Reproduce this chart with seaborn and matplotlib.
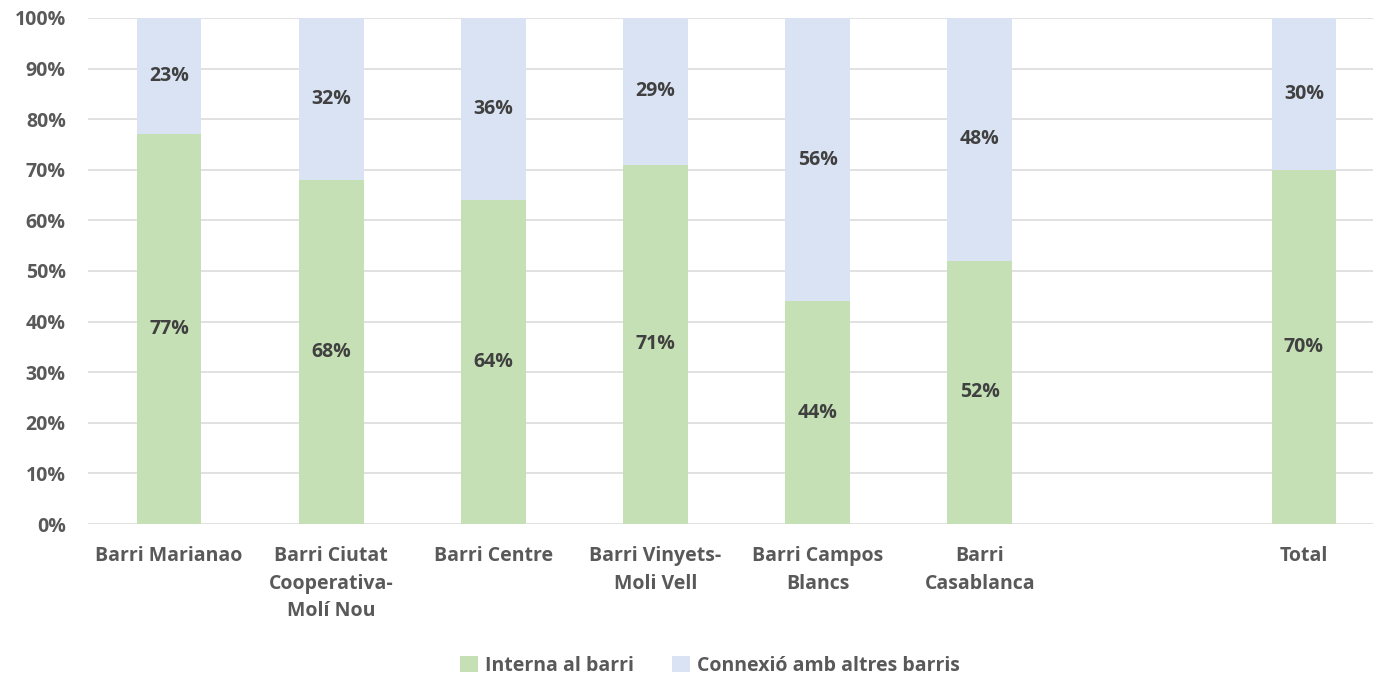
import matplotlib
matplotlib.use('Agg')
import matplotlib.pyplot as plt
from matplotlib.patches import Patch
from matplotlib.ticker import PercentFormatter
import pandas as pd
import seaborn as sns

CATEGORIES = ['Barri Marianao', 'Barri Ciutat\nCooperativa-\nMolí Nou', 'Barri Centre',
              'Barri Vinyets-\nMoli Vell', 'Barri Campos\nBlancs', 'Barri\nCasablanca',
              ' ', 'Total']
PLOTTED = [c for c in CATEGORIES if c.strip()]
INTERNA = [77, 68, 64, 71, 44, 52, 70]
CONNEXIO = [23, 32, 36, 29, 56, 48, 30]
SERIES = ['Interna al barri', 'Connexió amb altres barris']
GREEN = '#C5E0B4'
BLUE = '#DAE3F3'
TICK_COLOR = '#595959'
LABEL_COLOR = '#404040'
FS = 14

sns.set_theme(style='white')
plt.rcParams['font.family'] = ['Open Sans', 'DejaVu Sans']
plt.rcParams['font.weight'] = 'bold'

df = pd.DataFrame({'barri': PLOTTED, 'interna': INTERNA, 'connexio': CONNEXIO})
df['total'] = df['interna'] + df['connexio']

fig = plt.figure(figsize=(13.73, 6.77), dpi=100)
ax = fig.add_axes([88 / 1373, 1 - 524 / 677, 1 - 88 / 1373, (524 - 18) / 677])

sns.barplot(data=df, x='barri', y='total', order=CATEGORIES, color=BLUE,
            width=0.4, saturation=1, linewidth=0, ax=ax, zorder=2)
sns.barplot(data=df, x='barri', y='interna', order=CATEGORIES, color=GREEN,
            width=0.4, saturation=1, linewidth=0, ax=ax, zorder=3)

pos = {c: i for i, c in enumerate(CATEGORIES)}
for _, row in df.iterrows():
    x = pos[row['barri']]
    ax.text(x, row['interna'] / 2, f"{row['interna']}%", ha='center', va='center',
            fontsize=FS, fontweight='bold', color=LABEL_COLOR, zorder=4)
    ax.text(x, row['interna'] + row['connexio'] / 2, f"{row['connexio']}%",
            ha='center', va='center', fontsize=FS, fontweight='bold',
            color=LABEL_COLOR, zorder=4)

ax.set_ylim(0, 100)
ax.set_xlim(-0.5, 7.5 - 12 / 162)
ax.set_yticks(range(0, 101, 10))
ax.yaxis.set_major_formatter(PercentFormatter(decimals=0))
ax.yaxis.grid(True, color='#D9D9D9', lw=1.1, zorder=0)
ax.set_axisbelow(True)
for s in ax.spines.values():
    s.set_visible(False)
ax.set_xlabel('')
ax.set_ylabel('')
ax.tick_params(axis='y', length=0, pad=16, labelsize=FS, labelcolor=TICK_COLOR)
ax.tick_params(axis='x', length=0, pad=16, labelsize=FS, labelcolor=TICK_COLOR)
for t in ax.get_yticklabels() + ax.get_xticklabels():
    t.set_fontweight('bold')
    t.set_linespacing(1.5)

handles = [Patch(facecolor=GREEN, edgecolor='none'), Patch(facecolor=BLUE, edgecolor='none')]
fig.legend(handles, SERIES, loc='center', bbox_to_anchor=(0.517, 1 - 666 / 677),
           ncol=2, frameon=False, handlelength=0.9, handleheight=0.9,
           handletextpad=0.35, columnspacing=2.0, labelcolor=TICK_COLOR,
           prop={'weight': 'bold', 'size': FS})

fig.savefig('out.png', dpi=100)
